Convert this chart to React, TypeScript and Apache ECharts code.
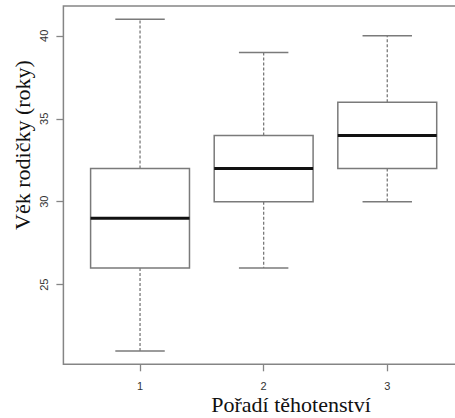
import React, { useEffect, useRef } from "react";
import * as echarts from "echarts";

const categories = [1, 2, 3];
const whiskerLow = [21, 26, 30];
const q1 = [26, 30, 32];
const medians = [29, 32, 34];
const q3 = [32, 34, 36];
const whiskerHigh = [41, 39, 40];
const yTicks = [25, 30, 35, 40];
const xTicks = [1, 2, 3];
const xTitle = "Pořadí těhotenství";
const yTitle = "Věk rodičky (roky)";

const LINE = "#7a7a7a";

export default function App() {
  const ref = useRef<HTMLDivElement>(null);
  useEffect(() => {
    document.body.style.margin = "0";
    if (!ref.current) return;
    const chart = echarts.init(ref.current, null, { renderer: "svg" });
    const data = categories.map((c, i) => [c, whiskerLow[i], q1[i], medians[i], q3[i], whiskerHigh[i]]);
    const renderItem = (params: any, api: any) => {
      const x = api.value(0);
      const lo = api.value(1), b1 = api.value(2), md = api.value(3), b3 = api.value(4), hi = api.value(5);
      const p = (xx: number, yy: number) => api.coord([xx, yy]);
      const tl = p(x - 0.4, b3), br = p(x + 0.4, b1);
      const seg = (a: number[], b: number[], style: any) => ({
        type: "line",
        shape: { x1: a[0], y1: a[1], x2: b[0], y2: b[1] },
        style,
      });
      const dashed = { stroke: LINE, lineWidth: 1.3, lineDash: [3, 2] };
      const solid = { stroke: LINE, lineWidth: 1.5 };
      return {
        type: "group",
        children: [
          seg(p(x, b3), p(x, hi), dashed),
          seg(p(x, b1), p(x, lo), dashed),
          seg(p(x - 0.2, hi), p(x + 0.2, hi), solid),
          seg(p(x - 0.2, lo), p(x + 0.2, lo), solid),
          {
            type: "rect",
            shape: { x: tl[0], y: tl[1], width: br[0] - tl[0], height: br[1] - tl[1] },
            style: { fill: "#fff", stroke: LINE, lineWidth: 1.5 },
          },
          seg(p(x - 0.4, md), p(x + 0.4, md), { stroke: "#111", lineWidth: 3 }),
        ],
      };
    };
    chart.setOption({
      animation: false,
      grid: {
        left: 63.4,
        top: 6,
        right: -8.9,
        bottom: 53.7,
        show: true,
        borderColor: "#858585",
        borderWidth: 1.5,
        backgroundColor: "transparent",
        outerBoundsMode: "none",
        containLabel: false,
      },
      xAxis: {
        type: "value",
        min: 0.38,
        max: 3.62,
        axisLine: { show: false },
        splitLine: { show: false },
        axisTick: { show: true, customValues: xTicks, length: 7, lineStyle: { color: "#858585", width: 1.3 } },
        axisLabel: {
          customValues: xTicks,
          margin: 16,
          fontFamily: "Liberation Sans",
          fontSize: 11,
          color: "#333",
        },
      },
      yAxis: {
        type: "value",
        min: 20.2,
        max: 41.8,
        axisLine: { show: false },
        splitLine: { show: false },
        axisTick: { show: true, customValues: yTicks, length: 7, lineStyle: { color: "#858585", width: 1.3 } },
        axisLabel: {
          customValues: yTicks,
          rotate: 90,
          margin: 14,
          fontFamily: "Liberation Sans",
          fontSize: 11,
          color: "#333",
        },
      },
      graphic: [
        {
          type: "text",
          x: 291,
          y: 404,
          style: {
            text: xTitle,
            fontFamily: "Liberation Serif",
            fontSize: 22,
            textAlign: "center",
            textVerticalAlign: "middle",
            fill: "#111",
          },
        },
        {
          type: "text",
          x: 22.6,
          y: 145,
          rotation: Math.PI / 2,
          style: {
            text: yTitle,
            fontFamily: "Liberation Serif",
            fontSize: 22,
            textAlign: "center",
            textVerticalAlign: "middle",
            fill: "#111",
          },
        },
      ],
      series: [
        {
          type: "custom",
          renderItem,
          data,
          encode: { x: 0, y: [1, 2, 3, 4, 5] },
          clip: false,
        },
      ],
    });
    return () => chart.dispose();
  }, []);
  return <div ref={ref} style={{ width: 455, height: 418 }} />;
}
